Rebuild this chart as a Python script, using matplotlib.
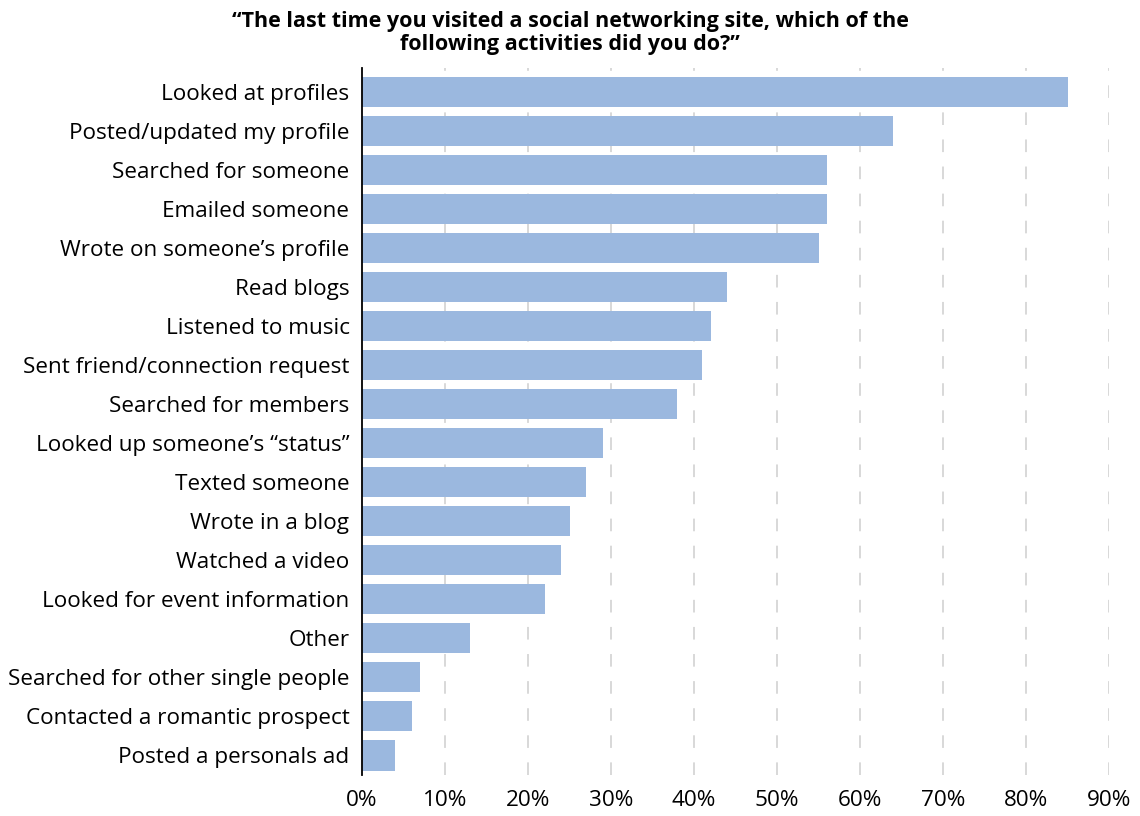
import matplotlib
matplotlib.use("Agg")
import matplotlib.pyplot as plt

categories = [
    "Looked at profiles",
    "Posted/updated my profile",
    "Searched for someone",
    "Emailed someone",
    "Wrote on someone\u2019s profile",
    "Read blogs",
    "Listened to music",
    "Sent friend/connection request",
    "Searched for members",
    "Looked up someone\u2019s \u201cstatus\u201d",
    "Texted someone",
    "Wrote in a blog",
    "Watched a video",
    "Looked for event information",
    "Other",
    "Searched for other single people",
    "Contacted a romantic prospect",
    "Posted a personals ad",
]
values = [85, 64, 56, 56, 55, 44, 42, 41, 38, 29, 27, 25, 24, 22, 13, 7, 6, 4]
xticks = [0, 10, 20, 30, 40, 50, 60, 70, 80, 90]
xticklabels = [f"{t}%" for t in xticks]
title = "\u201cThe last time you visited a social networking site, which of the\nfollowing activities did you do?\u201d"

plt.rcParams['font.family'] = ['Open Sans', 'DejaVu Sans']

fig = plt.figure(figsize=(11.4, 8.16), dpi=100)
ax = fig.add_axes([362/1140, 1-775/816, (1109-362)/1140, (775-68)/816])

y = list(range(len(categories)))
ax.barh(y, values, height=0.77, color="#9BB8DF", zorder=2)
ax.set_ylim(17.5, -0.62)
ax.set_xlim(0, 90)

ax.set_yticks(y)
ax.set_yticklabels(categories, fontsize=16.2)
ax.set_xticks(xticks)
ax.set_xticklabels(xticklabels, fontsize=16.2)
ax.tick_params(axis='y', length=0, pad=9)
ax.tick_params(axis='x', length=0, pad=11)

for t in xticks[1:]:
    ax.axvline(t, color="#d6d6d6", lw=1.3, linestyle=(0, (7, 8)), zorder=1)

for s in ["top", "right", "bottom"]:
    ax.spines[s].set_visible(False)
ax.spines["left"].set_linewidth(1.3)
ax.spines["left"].set_zorder(3)

fig.text(0.5, 1-33/816, title, ha="center", va="center", fontsize=15.5,
         fontweight="bold", linespacing=1.15)

fig.savefig("out.png", dpi=100)
